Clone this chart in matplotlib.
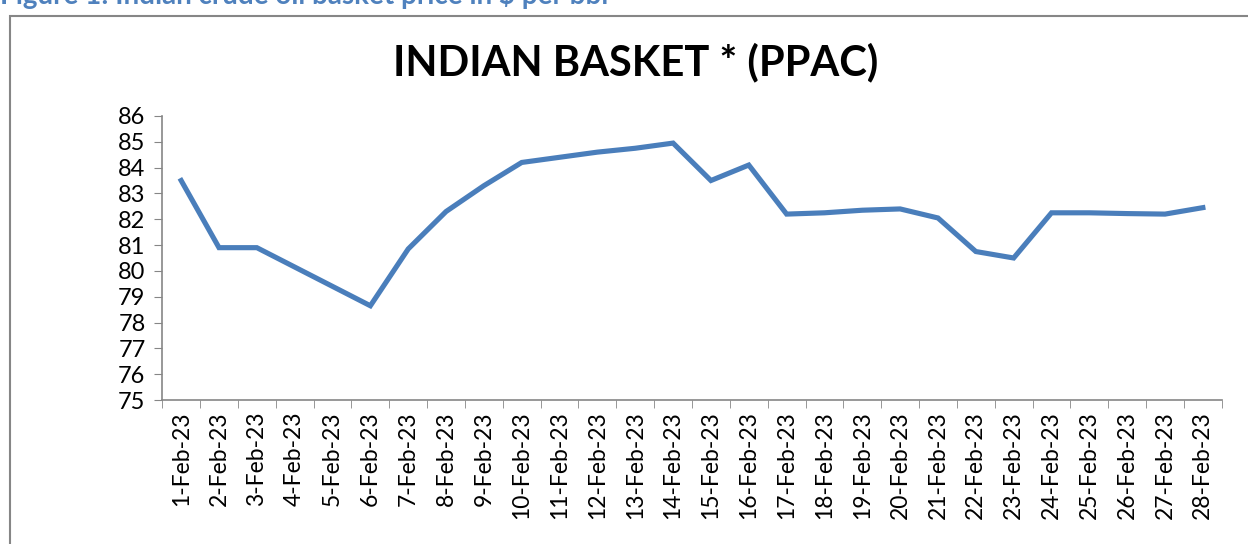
import matplotlib.pyplot as plt
from matplotlib.patches import Rectangle

# -----------------------------
# Data
# -----------------------------

dates = [f"{d}-Feb-23" for d in range(1, 29)]
price = [83.5, 80.9, 80.9, 80.15, 79.4, 78.65, 80.85, 82.3, 83.3, 84.2,
         84.4, 84.6, 84.75, 84.95, 83.5, 84.1, 82.2, 82.25, 82.35, 82.4,
         82.05, 80.75, 80.5, 82.25, 82.25, 82.22, 82.2, 82.45]
yticks = list(range(75, 87))

# -----------------------------
# Plot
# -----------------------------

plt.rcParams['font.family'] = ['Lato', 'DejaVu Sans']

fig = plt.figure(figsize=(12.48, 5.44), dpi=100)
ax = fig.add_axes([0.13, 0.2647, 0.849, 0.5221])

x = list(range(len(dates)))
ax.plot(x, price, color="#4A7EBB", linewidth=3.7, solid_joinstyle="miter")

ax.set_xlim(-0.5, len(dates) - 0.5)
ax.set_ylim(75, 86)
ax.set_yticks(yticks)
ax.set_xticks(x)
ax.set_xticklabels(dates, rotation=90, fontsize=16.5)
ax.set_xticks([i - 0.5 for i in range(len(dates) + 1)], minor=True)
ax.tick_params(axis="x", which="major", length=0, pad=8)
ax.tick_params(axis="x", which="minor", length=6, color="#868686", direction="out")
ax.tick_params(axis="y", length=6, color="#868686", labelsize=17, pad=6)

for side in ["top", "right"]:
    ax.spines[side].set_visible(False)
for side in ["left", "bottom"]:
    ax.spines[side].set_color("#868686")
    ax.spines[side].set_linewidth(1.2)

fig.text(0.509, 0.885, "INDIAN BASKET * (PPAC)", ha="center", va="center",
         fontsize=30, fontweight="bold")

# caption cut off at the top, as in the source page
fig.text(0.0, 1 - 4 / 544, "Figure 1: Indian crude oil basket price in $ per bbl",
         ha="left", va="baseline", fontsize=20, fontweight="bold", color="#4F81BD")

# chart border
fig.patches.append(Rectangle((10 / 1248, -0.1), 1.2, 1 - 16 / 544 + 0.1,
                             transform=fig.transFigure, fill=False,
                             edgecolor="#868686", linewidth=1.5))

plt.savefig("out.png", dpi=100)
plt.close()
